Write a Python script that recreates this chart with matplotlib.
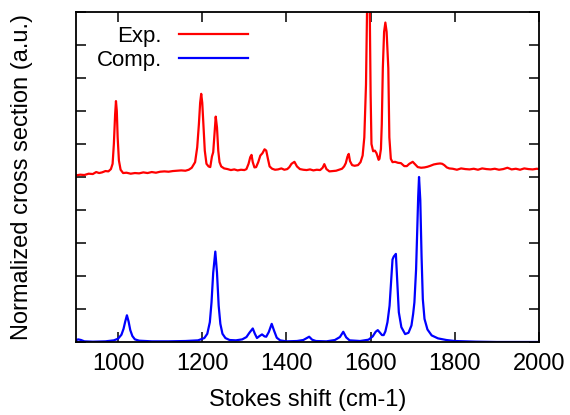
import matplotlib.pyplot as plt
import numpy as np

plt.rcParams['font.family'] = ['Liberation Sans', 'DejaVu Sans']

exp_pts = [
    (900, 5.05), (910, 5.07), (920, 5.06), (930, 5.10), (940, 5.09), (948, 5.15), (955, 5.12),
    (962, 5.14), (970, 5.18), (977, 5.17), (983, 5.24), (987, 5.40), (990, 6.00), (993, 6.90),
    (995, 7.30), (997, 7.00), (999, 6.20), (1002, 5.50), (1006, 5.22), (1012, 5.12), (1020, 5.13),
    (1030, 5.10), (1040, 5.12), (1050, 5.11), (1060, 5.14), (1070, 5.12), (1080, 5.15), (1090, 5.13),
    (1100, 5.16), (1110, 5.17), (1120, 5.16), (1130, 5.18), (1140, 5.19), (1150, 5.20), (1160, 5.19),
    (1168, 5.22), (1175, 5.28), (1183, 5.45), (1188, 5.90), (1192, 6.60), (1195, 7.25), (1197.5, 7.52),
    (1200, 7.25), (1203, 6.50), (1206, 5.80), (1210, 5.40), (1215, 5.32), (1219, 5.30), (1223, 5.62),
    (1226, 5.75), (1229, 6.30), (1232, 6.83), (1235, 6.50), (1238, 5.80), (1241, 5.45), (1245, 5.32),
    (1252, 5.26), (1260, 5.24), (1268, 5.21), (1276, 5.23), (1284, 5.20), (1292, 5.22), (1300, 5.21),
    (1305, 5.24), (1310, 5.40), (1314, 5.60), (1317, 5.67), (1320, 5.45), (1324, 5.29), (1328, 5.30),
    (1333, 5.45), (1338, 5.65), (1343, 5.72), (1348, 5.84), (1352, 5.80), (1356, 5.55), (1360, 5.32),
    (1366, 5.25), (1373, 5.22), (1380, 5.23), (1388, 5.26), (1395, 5.22), (1402, 5.24), (1407, 5.30),
    (1412, 5.40), (1419, 5.46), (1425, 5.32), (1432, 5.24), (1440, 5.22), (1448, 5.21), (1456, 5.23),
    (1464, 5.20), (1472, 5.22), (1480, 5.21), (1486, 5.28), (1490, 5.39), (1495, 5.24), (1502, 5.17),
    (1510, 5.18), (1518, 5.19), (1525, 5.22), (1532, 5.25), (1537, 5.32), (1541, 5.42), (1545, 5.62),
    (1548, 5.70), (1551, 5.48), (1556, 5.36), (1562, 5.34), (1570, 5.36), (1576, 5.45), (1581, 5.65),
    (1585, 6.20), (1589, 7.80), (1592, 10.50), (1595, 11.50), (1598, 10.00), (1600, 7.50), (1602, 6.00),
    (1606, 5.78), (1610, 5.80), (1614, 5.72), (1619, 5.52), (1621, 5.55), (1624.5, 5.85), (1626.5, 6.60),
    (1629, 8.30), (1632, 9.40), (1635, 9.68), (1638, 9.40), (1642, 8.30), (1644.5, 6.20), (1648, 5.55),
    (1652, 5.45), (1658, 5.46), (1665, 5.43), (1672, 5.42), (1680, 5.33), (1686, 5.33), (1692, 5.40),
    (1700, 5.46), (1706, 5.38), (1712, 5.30), (1720, 5.28), (1728, 5.29), (1735, 5.31), (1742, 5.34),
    (1750, 5.38), (1758, 5.40), (1765, 5.41), (1770, 5.40), (1775, 5.36), (1781, 5.29), (1787, 5.26),
    (1795, 5.25), (1805, 5.22), (1815, 5.26), (1825, 5.24), (1835, 5.23), (1845, 5.25), (1855, 5.22),
    (1865, 5.26), (1875, 5.24), (1885, 5.23), (1895, 5.25), (1905, 5.22), (1915, 5.24), (1925, 5.28),
    (1935, 5.23), (1945, 5.25), (1955, 5.22), (1965, 5.26), (1975, 5.24), (1985, 5.23), (1995, 5.25),
    (2000, 5.24),
]

# computed spectrum
comp_pts = [
    (900, 0.05), (905, 0.08), (912, 0.06), (920, 0.02), (940, 0.01), (970, 0.02), (990, 0.05),
    (1000, 0.10), (1008, 0.22), (1013, 0.40), (1017, 0.62), (1021, 0.81), (1025, 0.62), (1029, 0.36),
    (1034, 0.18), (1040, 0.08), (1050, 0.04), (1080, 0.02), (1120, 0.02), (1160, 0.03), (1190, 0.05),
    (1205, 0.12), (1212, 0.25), (1218, 0.60), (1222, 1.20), (1226, 2.10), (1231, 2.74), (1235, 2.10),
    (1239, 1.10), (1243, 0.55), (1248, 0.25), (1255, 0.12), (1265, 0.06), (1280, 0.05), (1295, 0.08),
    (1305, 0.15), (1312, 0.28), (1320, 0.41), (1325, 0.25), (1330, 0.12), (1336, 0.18), (1342, 0.23),
    (1348, 0.17), (1352, 0.16), (1358, 0.30), (1365, 0.55), (1371, 0.33), (1377, 0.13), (1385, 0.05),
    (1400, 0.02), (1425, 0.03), (1440, 0.06), (1447, 0.11), (1454, 0.16), (1461, 0.07), (1470, 0.03),
    (1495, 0.02), (1515, 0.06), (1527, 0.15), (1535, 0.31), (1542, 0.14), (1550, 0.05), (1575, 0.03),
    (1595, 0.07), (1605, 0.17), (1612, 0.31), (1617, 0.36), (1621, 0.30), (1627, 0.21), (1631, 0.21),
    (1635, 0.32), (1640, 0.60), (1645, 1.10), (1649, 1.90), (1652, 2.50), (1655, 2.59), (1660, 2.67),
    (1663, 1.90), (1667, 0.90), (1673, 0.45), (1682, 0.24), (1690, 0.28), (1697, 0.50), (1701, 0.85),
    (1704, 1.20), (1708, 2.20), (1711, 3.50), (1713, 4.40), (1715, 5.00), (1718, 4.30), (1721, 2.60),
    (1724, 1.30), (1728, 0.70), (1735, 0.38), (1745, 0.20), (1760, 0.11), (1780, 0.06), (1800, 0.03),
    (1850, 0.01), (1900, 0.00), (2000, 0.00),
]

exp_x, exp_y = zip(*exp_pts)
comp_x, comp_y = zip(*comp_pts)

fig = plt.figure(figsize=(5.7, 4.15), dpi=100)
ax = fig.add_axes([0.1333, 0.1759, 0.8123, 0.7952])

ax.plot(exp_x, exp_y, color='#ff0000', linewidth=1.6, label='Exp.')
ax.plot(comp_x, comp_y, color='#0000ff', linewidth=1.6, label='Comp.')

ax.set_xlim(900, 2000)
ax.set_ylim(0, 10)
ax.set_xticks([1000, 1200, 1400, 1600, 1800, 2000])
ax.set_yticks(np.arange(0, 11, 1))
ax.set_yticklabels([])
ax.tick_params(direction='in', top=True, right=True, length=7, width=1.1, labelsize=17, pad=8)
for s in ax.spines.values():
    s.set_linewidth(1.3)

ax.set_xlabel('Stokes shift (cm-1)', fontsize=17, labelpad=10)
ax.set_ylabel('Normalized cross section (a.u.)', fontsize=17, labelpad=23)

ax.legend(loc='upper left', bbox_to_anchor=(0.045, 0.958), frameon=False, markerfirst=False,
          handlelength=3.1, handletextpad=0.75, fontsize=16, labelspacing=0.12,
          borderaxespad=0.0, borderpad=0.0)

fig.savefig('out.png', dpi=100)
